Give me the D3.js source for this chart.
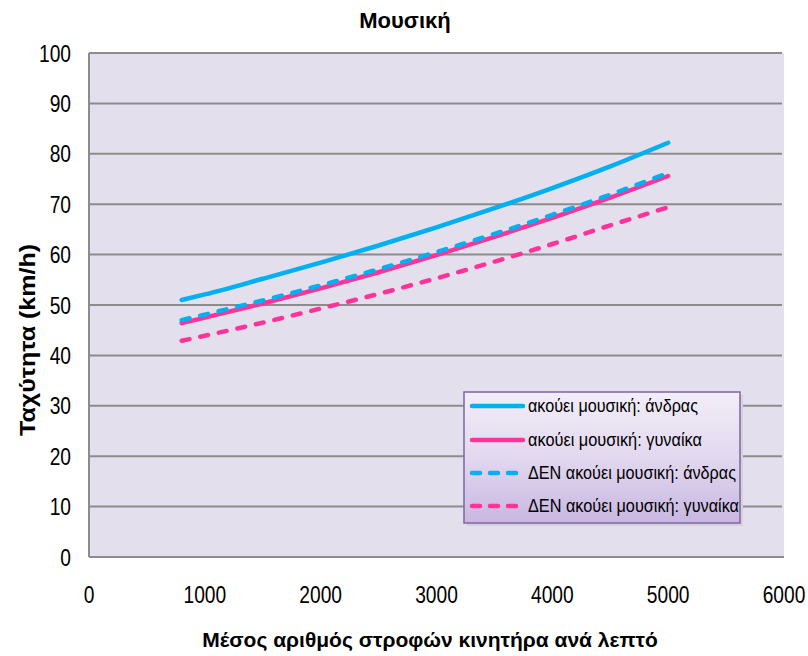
<!DOCTYPE html>
<html><head><meta charset="utf-8">
<script src="https://cdn.jsdelivr.net/npm/d3@7"></script>
<style>body{margin:0;background:#fff;}svg{display:block;font-family:"Liberation Sans",Arial,sans-serif;}</style>
</head><body><svg id="c" width="808" height="656"></svg>
<script>
const rpm = [800,1000,1500,2000,2500,3000,3500,4000,4500,5000];
const musicMen   = [51.0,52.1,55.2,58.4,61.8,65.4,69.2,73.2,77.5,82.2];
const musicWomen = [46.4,47.5,50.3,53.3,56.5,59.9,63.5,67.3,71.3,75.6];
const noMusicMen   = [47.0,48.1,50.9,53.9,57.1,60.5,64.1,67.9,71.9,76.2];
const noMusicWomen = [42.9,43.9,46.5,49.3,52.2,55.3,58.6,62.1,65.8,69.4];
const seriesNames = ["ακούει μουσική: άνδρας","ακούει μουσική: γυναίκα","ΔΕΝ ακούει μουσική: άνδρας","ΔΕΝ ακούει μουσική: γυναίκα"];
const xTicks = [0,1000,2000,3000,4000,5000,6000];
const yTicks = [0,10,20,30,40,50,60,70,80,90,100];
const title = "Μουσική", xTitle = "Μέσος αριθμός στροφών κινητήρα ανά λεπτό", yTitle = "Ταχύτητα (km/h)";

const series = [
  {name:seriesNames[0], values:musicMen, color:"#00B0F0", dash:null, tl:170},
  {name:seriesNames[1], values:musicWomen, color:"#FF3399", dash:null, tl:174},
  {name:seriesNames[2], values:noMusicMen, color:"#00B0F0", dash:"8,11", tl:208},
  {name:seriesNames[3], values:noMusicWomen, color:"#FF3399", dash:"8,11", tl:211}
];

const svg = d3.select("#c");
const L=89, R=784, T=53, B=557;
const x = d3.scaleLinear().domain([0,6000]).range([L,R]);
const y = d3.scaleLinear().domain([0,100]).range([B,T]);

svg.append("rect").attr("x",L).attr("y",T).attr("width",R-L).attr("height",B-T).attr("fill","#E4DFEC");
svg.append("g").selectAll("line").data(yTicks.filter(d=>d>0)).join("line")
  .attr("x1",L).attr("x2",R-2).attr("y1",d=>y(d)).attr("y2",d=>y(d))
  .attr("stroke","#8C8C8C").attr("stroke-width",2);
svg.append("line").attr("x1",L).attr("x2",L).attr("y1",T).attr("y2",B).attr("stroke","#8C8C8C").attr("stroke-width",2);
svg.append("line").attr("x1",L).attr("x2",R).attr("y1",B).attr("y2",B).attr("stroke","#8C8C8C").attr("stroke-width",2);

const SX = 0.8;
svg.append("g").selectAll("text").data(yTicks).join("text")
  .attr("transform",d=>`translate(71,${y(d)+8.5}) scale(${SX},1)`).attr("text-anchor","end")
  .attr("font-size",24).attr("fill","#000").text(d=>d);
svg.append("g").selectAll("text").data(xTicks).join("text")
  .attr("transform",d=>`translate(${x(d)},603) scale(${SX},1)`).attr("text-anchor","middle")
  .attr("font-size",24).attr("fill","#000").text(d=>d);

svg.append("text").attr("x",405).attr("y",28).attr("text-anchor","middle").attr("font-size",22).attr("font-weight","bold").text(title);
svg.append("text").attr("x",430).attr("y",647).attr("text-anchor","middle").attr("font-size",21).attr("font-weight","bold").text(xTitle);
svg.append("text").attr("transform","translate(35,340) rotate(-90)").attr("text-anchor","middle").attr("font-size",22).attr("font-weight","bold")
  .attr("textLength",192).attr("lengthAdjust","spacingAndGlyphs").text(yTitle);

const line = d3.line().x((d,i)=>x(rpm[i])).y(d=>y(d)).curve(d3.curveMonotoneX);
series.forEach(s=>{
  svg.append("path").attr("d",line(s.values)).attr("fill","none")
    .attr("stroke",s.color).attr("stroke-width",4.5)
    .attr("stroke-linecap","round")
    .attr("stroke-dasharray",s.dash);
});

const defs = svg.append("defs");
const g = defs.append("linearGradient").attr("id","lg").attr("x1",0).attr("x2",0).attr("y1",0).attr("y2",1);
g.append("stop").attr("offset","0%").attr("stop-color","#F2EEF8");
g.append("stop").attr("offset","50%").attr("stop-color","#E2D8EF");
g.append("stop").attr("offset","100%").attr("stop-color","#C8B7E1");
const lx=464, ly=392, lw=276, lh=131;
svg.append("rect").attr("x",lx+3).attr("y",ly+3).attr("width",lw).attr("height",lh).attr("fill","#d6d2dc");
svg.append("rect").attr("x",lx).attr("y",ly).attr("width",lw).attr("height",lh).attr("fill","url(#lg)").attr("stroke","#8064A2").attr("stroke-width",1.5);
const rowY = [406,440,473,506];
series.forEach((s,i)=>{
  const yy = rowY[i];
  svg.append("line").attr("x1",lx+8).attr("x2",lx+59).attr("y1",yy).attr("y2",yy)
    .attr("stroke",s.color).attr("stroke-width",4.5)
    .attr("stroke-linecap","round")
    .attr("stroke-dasharray",s.dash?"8,10":null);
  svg.append("text").attr("x",lx+64).attr("y",yy+6).attr("font-size",18.5).attr("fill","#000")
    .attr("textLength",s.tl).attr("lengthAdjust","spacingAndGlyphs").text(s.name);
});
</script></body></html>
